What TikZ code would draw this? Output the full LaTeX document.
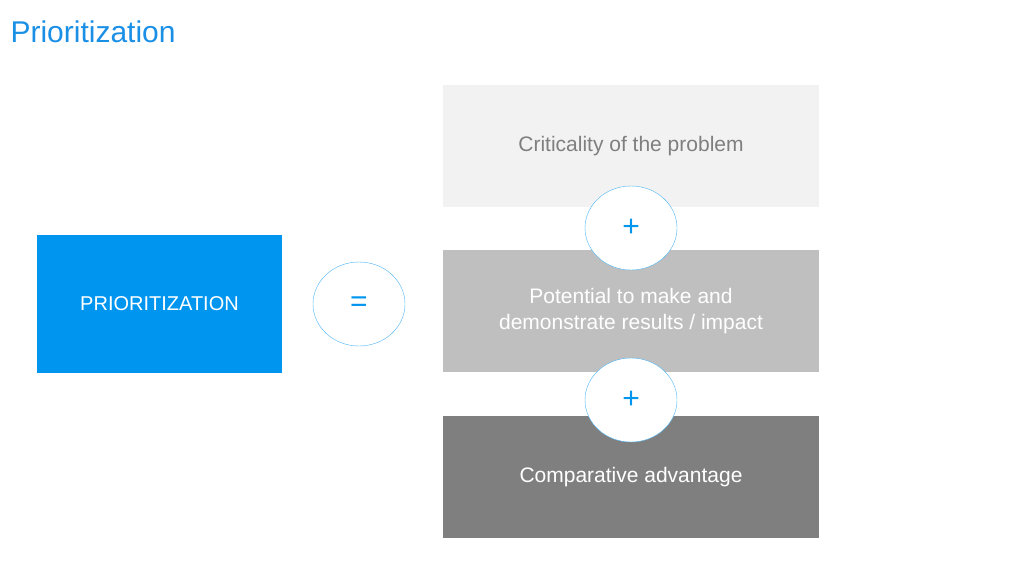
\documentclass[tikz,border=0pt]{standalone}
\usepackage{fontspec}
\setmainfont{Liberation Sans}
\usetikzlibrary{shapes.geometric}
\definecolor{blu}{HTML}{0096F0}
\definecolor{ttl}{HTML}{1A8FE6}
\definecolor{g1}{HTML}{F2F2F2}
\definecolor{g2}{HTML}{BFBFBF}
\definecolor{g3}{HTML}{7F7F7F}
\begin{document}
\begin{tikzpicture}[x=1pt,y=-1pt,
 box/.style={minimum width=376pt,minimum height=122pt,inner sep=0pt,align=center,font=\fontsize{21}{26}\selectfont},
 op/.style={ellipse,draw=blu!70,fill=white,minimum width=92pt,minimum height=84pt,inner sep=0pt,text=blu,font=\fontsize{30}{30}\selectfont}]
\useasboundingbox (0,0) rectangle (1024,576);
\node[anchor=west,text=ttl,font=\fontsize{30}{36}\selectfont] (title) at (7,32) {Prioritization};
\node[fill=blu,minimum width=245pt,minimum height=138pt,inner sep=0pt,text=white,font=\fontsize{20}{24}\selectfont] (p) at (159.5,304) {PRIORITIZATION};
\node[op] (eq) at (359,304) {=};
\node[box,fill=g1,text=g3] (b1) at (631,146) {Criticality of the problem};
\node[box,fill=g2,text=white] (b2) at (631,311) {Potential to make and\\demonstrate results / impact};
\node[box,fill=g3,text=white] (b3) at (631,477) {Comparative advantage};
\node[op] (p1) at (631,228) {+};
\node[op] (p2) at (631,400) {+};
\end{tikzpicture}
\end{document}
